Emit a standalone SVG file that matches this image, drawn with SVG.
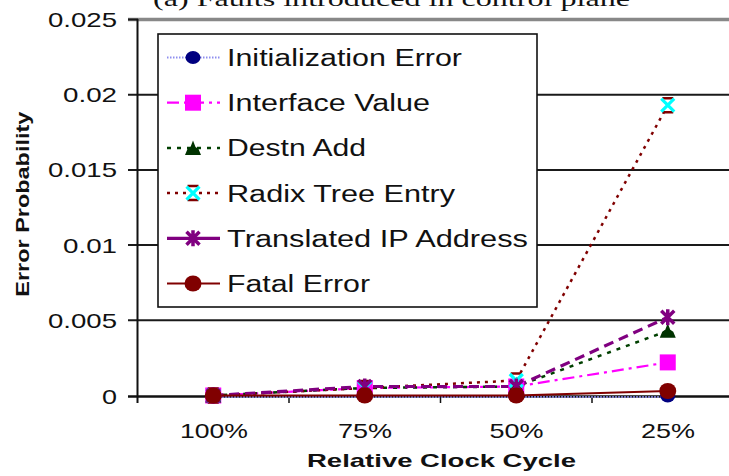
<svg xmlns="http://www.w3.org/2000/svg" xmlns:xlink="http://www.w3.org/1999/xlink" width="729" height="476" viewBox="0 0 729 476">
<style>
text{font-family:"Liberation Sans",Arial,sans-serif;fill:#111}
.tick{font-size:21px}
.leg{font-size:23px}
.axt{font-size:19px;font-weight:bold}
.title{font-family:"Liberation Serif","Times New Roman",serif;font-size:22px}
.grid{stroke:#1a1a1a;stroke-width:2;fill:none}
.s-init{stroke:#8f8fef;stroke-width:1.8;stroke-dasharray:1.5 1.5;fill:none}
.s-iface{stroke:#ff00ff;stroke-width:2.2;stroke-dasharray:12 5 3 5;fill:none}
.s-destn{stroke:#004000;stroke-width:2.5;stroke-dasharray:4 6;fill:none}
.s-radix{stroke:#800000;stroke-width:2.5;stroke-dasharray:3 5;fill:none}
.s-trans{stroke:#800080;stroke-width:3.2;stroke-dasharray:10 6;fill:none}
.s-fatal{stroke:#800000;stroke-width:2.2;fill:none}
</style>
<defs>
<g id="m-init"><ellipse rx="7.5" ry="6.5" fill="#000080"/></g>
<g id="m-iface"><rect x="-8" y="-8" width="16" height="16" fill="#ff00ff"/></g>
<g id="m-destn"><path d="M-8,7 L-5.5,1 L-2.5,-1 L0,-7.5 L2.5,-1 L5.5,1 L8,7 Z" fill="#003300"/></g>
<g id="m-radix"><path d="M-5.5,-7 H5.5 M-5.5,7 H5.5" stroke="#800000" stroke-width="2.5"/><path d="M-6.5,-6.5 L6.5,6.5 M6.5,-6.5 L-6.5,6.5" stroke="#00ffff" stroke-width="3.2"/></g>
<g id="m-trans"><path d="M-6.5,-6.5 L6.5,6.5 M6.5,-6.5 L-6.5,6.5 M0,-8 V8" stroke="#800080" stroke-width="3.5"/></g>
<g id="m-fatal"><ellipse rx="8.5" ry="8" fill="#800000"/></g>
</defs>
<rect width="729" height="476" fill="#fff"/>

<text class="title" x="153" y="6" textLength="477" lengthAdjust="spacingAndGlyphs">(a) Faults introduced in control plane</text>

<g id="axes">
<line x1="128" y1="19.5" x2="729" y2="19.5" stroke="#888" stroke-width="3.5"/>
<line x1="128" y1="19.5" x2="138" y2="19.5" stroke="#1a1a1a" stroke-width="2"/>
<line class="grid" x1="128" y1="94.7" x2="729" y2="94.7"/>
<line class="grid" x1="128" y1="169.9" x2="729" y2="169.9"/>
<line class="grid" x1="128" y1="245.1" x2="729" y2="245.1"/>
<line class="grid" x1="128" y1="320.3" x2="729" y2="320.3"/>
<line x1="128" y1="396.5" x2="729" y2="396.5" stroke="#111" stroke-width="2.5"/>
<line x1="137.5" y1="19" x2="137.5" y2="403" stroke="#111" stroke-width="2"/>
<path d="M289,396 V403 M440.5,396 V403 M592,396 V403" stroke="#111" stroke-width="1.5"/>
<text class="tick" x="117" y="27" text-anchor="end" textLength="69" lengthAdjust="spacingAndGlyphs">0.025</text>
<text class="tick" x="117" y="102.2" text-anchor="end" textLength="54" lengthAdjust="spacingAndGlyphs">0.02</text>
<text class="tick" x="117" y="177.4" text-anchor="end" textLength="69" lengthAdjust="spacingAndGlyphs">0.015</text>
<text class="tick" x="117" y="252.6" text-anchor="end" textLength="54" lengthAdjust="spacingAndGlyphs">0.01</text>
<text class="tick" x="117" y="327.8" text-anchor="end" textLength="69" lengthAdjust="spacingAndGlyphs">0.005</text>
<text class="tick" x="117" y="404" text-anchor="end" textLength="15" lengthAdjust="spacingAndGlyphs">0</text>
<text class="tick" x="214" y="437.5" text-anchor="middle" textLength="68" lengthAdjust="spacingAndGlyphs">100%</text>
<text class="tick" x="365" y="437.5" text-anchor="middle" textLength="54" lengthAdjust="spacingAndGlyphs">75%</text>
<text class="tick" x="516.5" y="437.5" text-anchor="middle" textLength="54" lengthAdjust="spacingAndGlyphs">50%</text>
<text class="tick" x="668" y="437.5" text-anchor="middle" textLength="54" lengthAdjust="spacingAndGlyphs">25%</text>
<text class="axt" x="441.5" y="466.7" text-anchor="middle" textLength="269" lengthAdjust="spacingAndGlyphs">Relative Clock Cycle</text>
<text class="axt" transform="translate(29,204.2) rotate(-90)" text-anchor="middle" textLength="185" lengthAdjust="spacingAndGlyphs">Error Probability</text>
</g>

<g id="connectors">
<polyline class="s-init" points="213.25,397 364.75,397 516.25,397 667.75,397"/>
<polyline class="s-iface" points="213.25,395.5 364.75,388 516.25,386.5 667.75,362.4"/>
<polyline class="s-destn" points="213.25,395.5 364.75,388 516.25,386.5 667.75,330.8"/>
<polyline class="s-radix" points="213.25,395.5 364.75,388 516.25,380.5 667.75,105.2"/>
<polyline class="s-trans" points="213.25,395.5 364.75,386.5 516.25,386.5 667.75,317.3"/>
<polyline class="s-fatal" points="213.25,395.5 364.75,395.5 516.25,395.5 667.75,391"/>
</g>

<g id="series-init">
<use xlink:href="#m-init" x="213.25" y="396"/><use xlink:href="#m-init" x="364.75" y="396"/><use xlink:href="#m-init" x="516.25" y="396"/><use xlink:href="#m-init" x="667.75" y="396"/>
</g>
<g id="series-iface">
<use xlink:href="#m-iface" x="213.25" y="395.5"/><use xlink:href="#m-iface" x="364.75" y="388"/><use xlink:href="#m-iface" x="516.25" y="386.5"/><use xlink:href="#m-iface" x="667.75" y="362.4"/>
</g>
<g id="series-destn">
<use xlink:href="#m-destn" x="213.25" y="395.5"/><use xlink:href="#m-destn" x="364.75" y="388"/><use xlink:href="#m-destn" x="516.25" y="386.5"/><use xlink:href="#m-destn" x="667.75" y="330.8"/>
</g>
<g id="series-radix">
<use xlink:href="#m-radix" x="213.25" y="395.5"/><use xlink:href="#m-radix" x="364.75" y="388"/><use xlink:href="#m-radix" x="516.25" y="380.5"/><use xlink:href="#m-radix" x="667.75" y="105.2"/>
</g>
<g id="series-trans">
<use xlink:href="#m-trans" x="213.25" y="395.5"/><use xlink:href="#m-trans" x="364.75" y="386.5"/><use xlink:href="#m-trans" x="516.25" y="386.5"/><use xlink:href="#m-trans" x="667.75" y="317.3"/>
</g>
<g id="series-fatal">
<use xlink:href="#m-fatal" x="213.25" y="395.5"/><use xlink:href="#m-fatal" x="364.75" y="395.5"/><use xlink:href="#m-fatal" x="516.25" y="395.5"/><use xlink:href="#m-fatal" x="667.75" y="391"/>
</g>

<g id="legend">
<rect x="158" y="34" width="379" height="273" fill="#fff" stroke="#111" stroke-width="1.6"/>
<line class="s-init" x1="167" y1="57.5" x2="220" y2="57.5"/><use xlink:href="#m-init" x="193" y="57.5"/>
<text class="leg" x="227" y="66" textLength="235" lengthAdjust="spacingAndGlyphs">Initialization Error</text>
<line class="s-iface" x1="167" y1="102.7" x2="220" y2="102.7"/><use xlink:href="#m-iface" x="193" y="102.7"/>
<text class="leg" x="227" y="111.2" textLength="203" lengthAdjust="spacingAndGlyphs">Interface Value</text>
<line class="s-destn" x1="167" y1="147.9" x2="220" y2="147.9"/><use xlink:href="#m-destn" x="193" y="147.9"/>
<text class="leg" x="227" y="156.4" textLength="139" lengthAdjust="spacingAndGlyphs">Destn Add</text>
<line class="s-radix" x1="167" y1="193.1" x2="220" y2="193.1"/><use xlink:href="#m-radix" x="193" y="193.1"/>
<text class="leg" x="227" y="201.6" textLength="228" lengthAdjust="spacingAndGlyphs">Radix Tree Entry</text>
<line class="s-trans" style="stroke-dasharray:none" x1="167" y1="238.3" x2="220" y2="238.3"/><use xlink:href="#m-trans" x="193" y="238.3"/>
<text class="leg" x="227" y="246.8" textLength="301" lengthAdjust="spacingAndGlyphs">Translated IP Address</text>
<line class="s-fatal" x1="167" y1="283.5" x2="220" y2="283.5"/><use xlink:href="#m-fatal" x="193" y="283.5"/>
<text class="leg" x="227" y="292" textLength="143" lengthAdjust="spacingAndGlyphs">Fatal Error</text>
</g>
</svg>
